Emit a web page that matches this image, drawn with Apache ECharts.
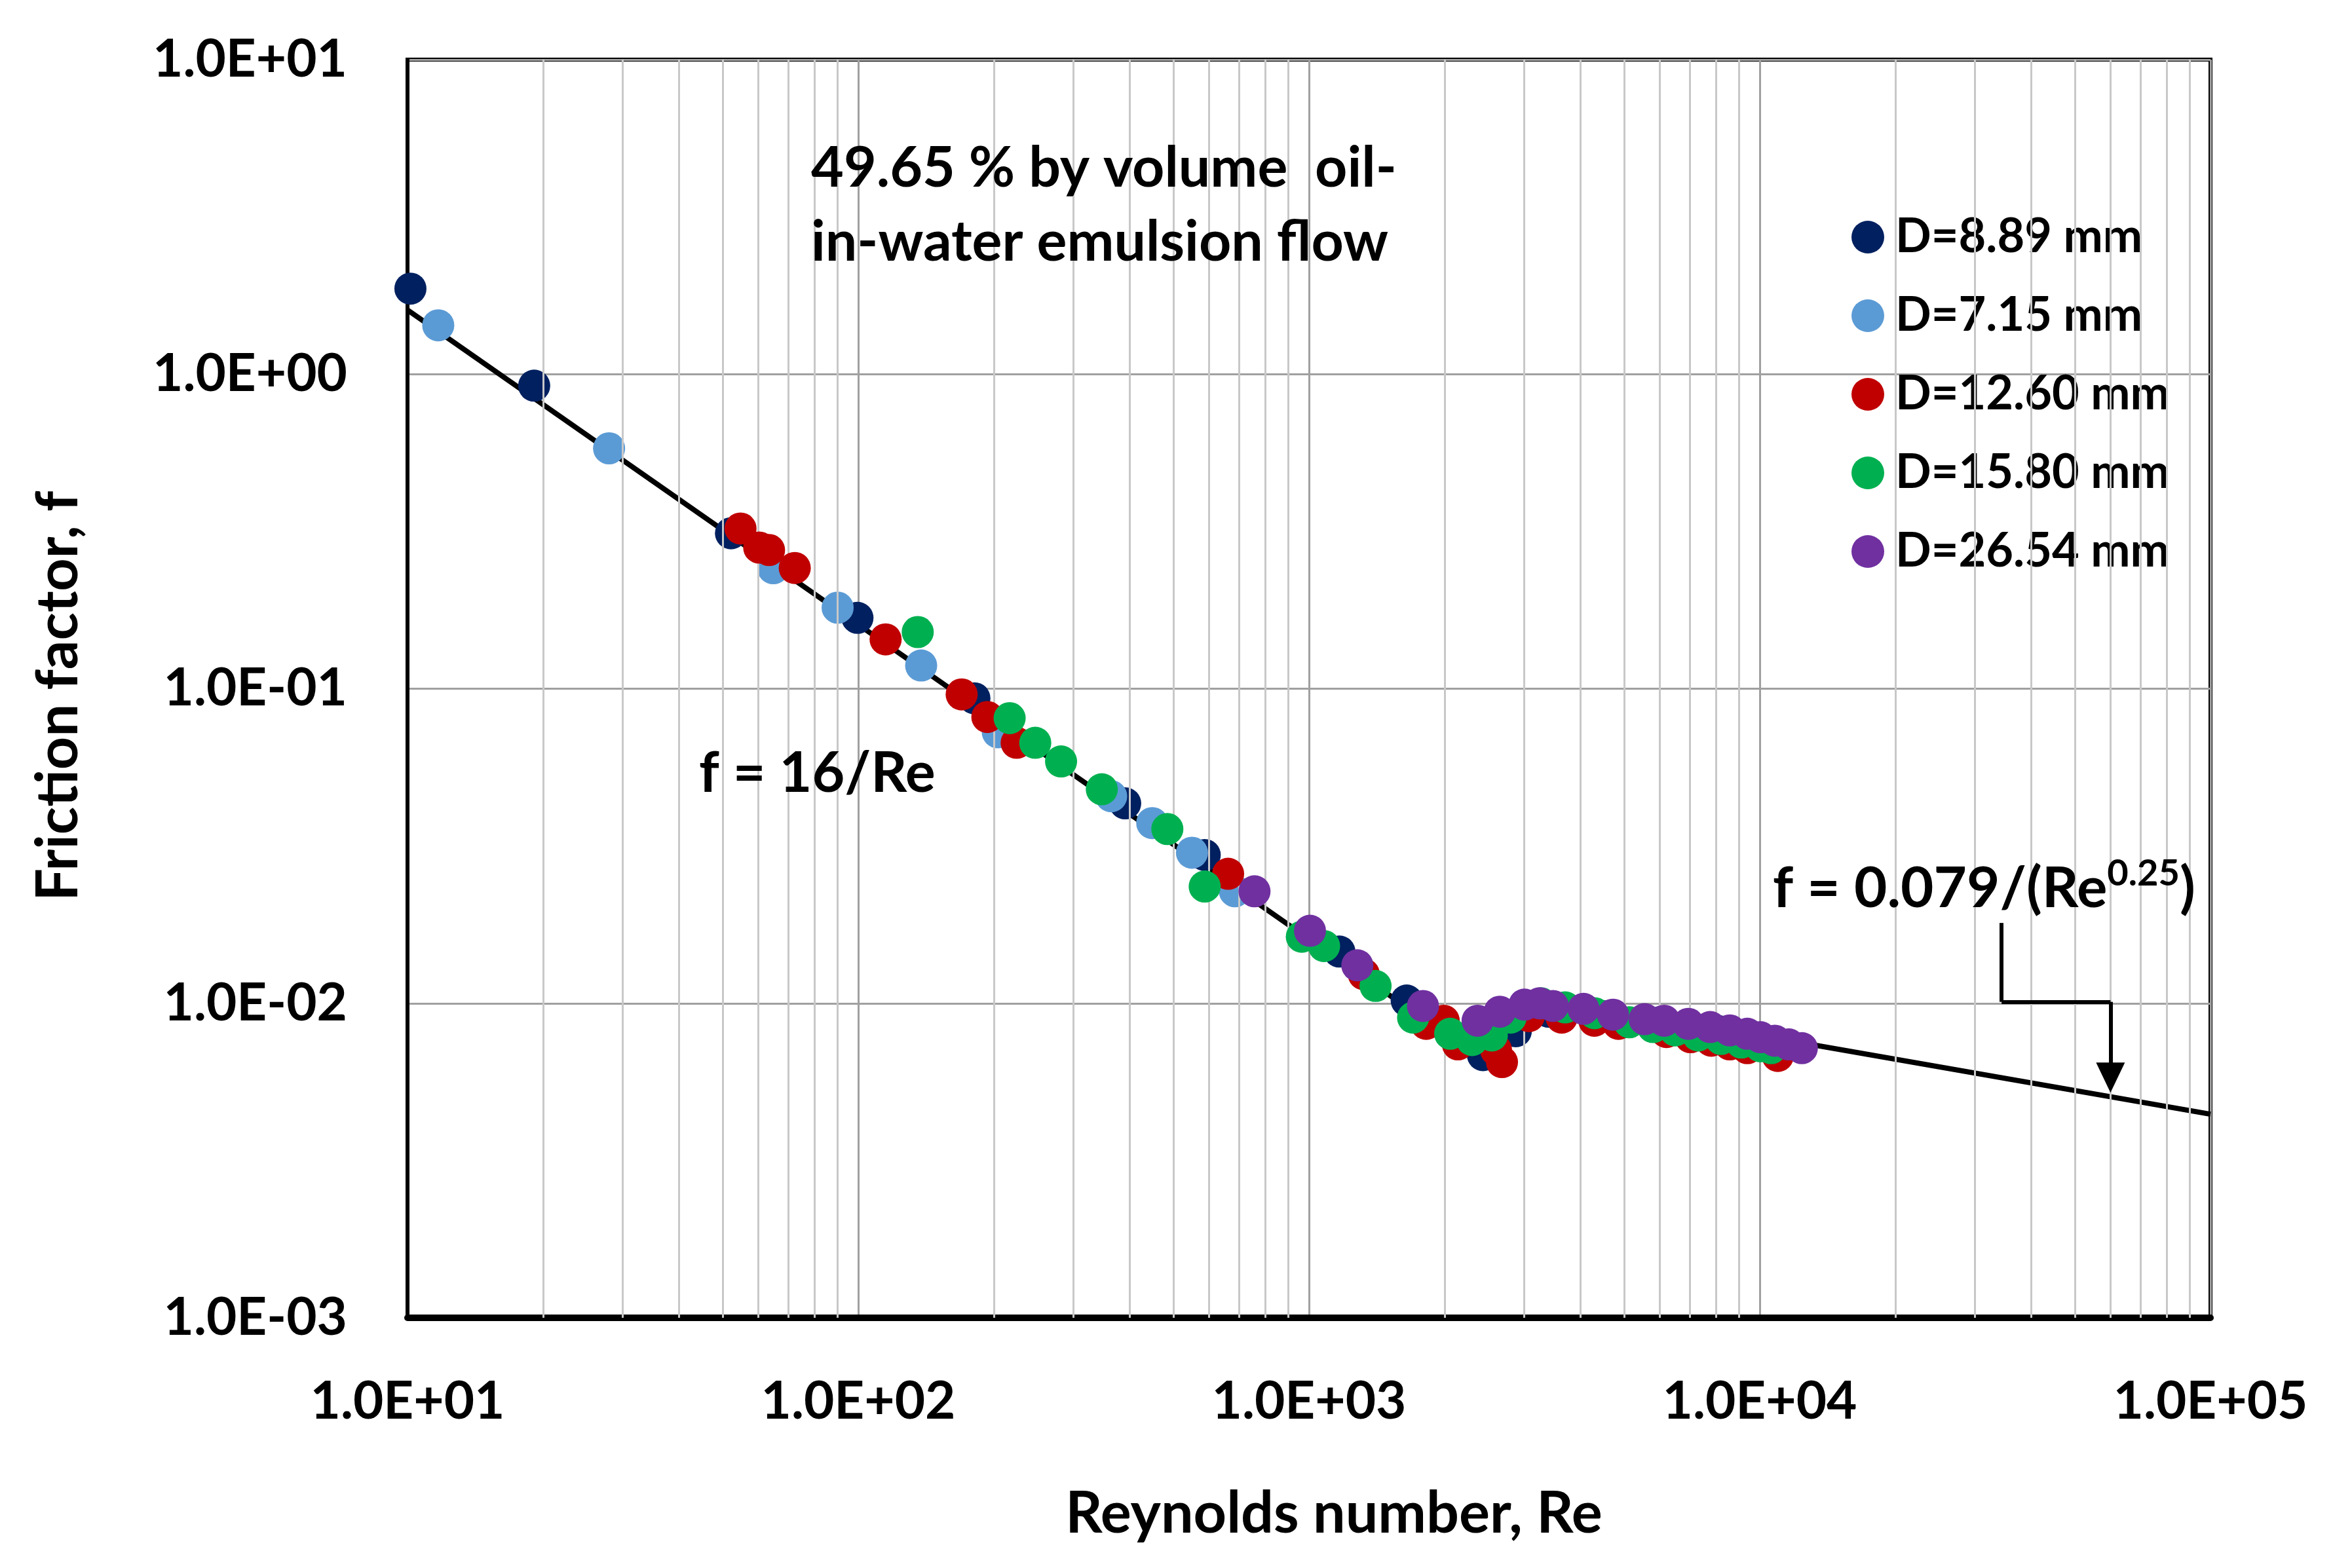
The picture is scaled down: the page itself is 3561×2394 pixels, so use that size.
<!DOCTYPE html>
<html>
<head>
<meta charset="utf-8">
<script src="https://cdn.jsdelivr.net/npm/echarts@6/dist/echarts.min.js"></script>
<style>
html,body{margin:0;padding:0;background:#fff;}
#chart{width:3561px;height:2394px;}
</style>
</head>
<body>
<div id="chart"></div>
<script>
// ---- data ----
const seriesNames = ['D=8.89 mm','D=7.15 mm','D=12.60 mm','D=15.80 mm','D=26.54 mm'];
const seriesColors = ['#002060','#5B9BD5','#C00000','#00B050','#7030A0'];

const d889 = [[10.15,1.87],[19.1,0.919],[52.2,0.312],[99.6,0.168],[181,0.0932],[391,0.0432],[587,0.0296],[1168,0.0146],[1647,0.0102],[2432,0.00684],[2876,0.00815],[3400,0.0094],[4500,0.0091],[6000,0.0087],[8000,0.0082]];
const d715 = [[11.7,1.43],[28.0,0.581],[64.8,0.2415],[90.0,0.181],[137.9,0.1185],[204,0.0727],[364,0.0455],[449,0.0374],[550,0.0301],[685,0.0227]];
const d1260 = [[54.8,0.323],[60.3,0.281],[63.4,0.276],[72.3,0.242],[115,0.1435],[169.6,0.0959],[193.4,0.0813],[224.6,0.0673],[661.6,0.0258],[1323,0.01237],[1820,0.0086],[1990,0.0088],[2140,0.0074],[2600,0.0071],[2680,0.0065],[3075,0.0091],[3635,0.0090],[4296,0.0088],[4859,0.0086],[6209,0.0081],[7022,0.0078],[7806,0.0076],[8580,0.0074],[9385,0.0072],[10965,0.0068]];
const d1580 = [[135.5,0.1514],[216.7,0.0806],[247,0.0673],[281.8,0.0587],[347,0.0479],[485,0.0358],[587,0.0235],[964,0.01627],[1080,0.0152],[1405,0.01135],[1702,0.0090],[2057,0.0080],[2301,0.00764],[2544,0.0079],[2800,0.0090],[3270,0.0100],[3700,0.0097],[4300,0.0093],[5137,0.0087],[5800,0.0084],[6494,0.0082],[7300,0.0079],[8200,0.0077],[9100,0.0075],[10035,0.0073],[10600,0.0072]];
const d2654 = [[757,0.0227],[1005,0.0170],[1280,0.0132],[1790,0.0098],[2366,0.0088],[2650,0.0094],[3007,0.0099],[3250,0.0100],[3476,0.0098],[4064,0.0096],[4725,0.0092],[5554,0.0089],[6138,0.0088],[6944,0.0086],[7763,0.0084],[8582,0.0082],[9385,0.0080],[10035,0.0078],[10800,0.0076],[11600,0.0074],[12400,0.0072]];

// model lines (end points)
const laminarLine = [[10,1.6],[2100,0.00762]];
const turbulentLine = [[3000,0.01067],[100000,0.00444]];

// annotation arrow path (data coordinates)
const arrowPath = [[34400,0.0180],[34400,0.0101],[60000,0.0101],[60000,0.0058]];

const xTickLabels = {1:'1.0E+01',2:'1.0E+02',3:'1.0E+03',4:'1.0E+04',5:'1.0E+05'};
const yTickLabels = {'-3':'1.0E-03','-2':'1.0E-02','-1':'1.0E-01','0':'1.0E+00','1':'1.0E+01'};

// ---- chart ----
const FONT = 'Lato';
const chart = echarts.init(document.getElementById('chart'), null, {renderer:'canvas'});

const minorX = [];
for (let d = 10; d < 100000; d *= 10) for (let k = 2; k <= 9; k++) minorX.push(d * k);

const dataSets = [d889, d715, d1260, d1580, d2654];

const series = [];
series.push({
  name:'minorGrid', type:'line', data:[], z:1, silent:true,
  markLine:{silent:true, symbol:['none','none'], animation:false, label:{show:false},
    lineStyle:{color:'#c8c8c8', width:3, type:'solid'},
    emphasis:{disabled:true},
    data: minorX.map(v => ({xAxis:v}))}
});
series.push({name:'laminar', type:'line', data:laminarLine, symbol:'none', z:2,
  lineStyle:{color:'#000', width:8}, silent:true, animation:false});
series.push({name:'turbulent', type:'line', data:turbulentLine, symbol:'none', z:2,
  lineStyle:{color:'#000', width:8}, silent:true, animation:false});
dataSets.forEach((ds, i) => {
  series.push({name:seriesNames[i], type:'scatter', data:ds, symbol:'circle', symbolSize:49,
    itemStyle:{color:seriesColors[i], opacity:1}, z:3 + i, animation:false});
});
const arrowSegs = [];
for (let i = 0; i < arrowPath.length - 1; i++) {
  const last = i === arrowPath.length - 2;
  arrowSegs.push([
    {coord:arrowPath[i], symbol:'none'},
    {coord:arrowPath[i+1], symbol: last ? 'triangle' : 'none', symbolSize: last ? [44,46] : 0, symbolRotate: last ? 180 : 0}
  ]);
}
series.push({
  name:'arrow', type:'line', data:[], z:10, silent:true,
  markLine:{silent:true, animation:false, label:{show:false}, symbol:['none','none'],
    lineStyle:{color:'#000', width:6, type:'solid'}, emphasis:{disabled:true},
    data: arrowSegs}
});

const option = {
  backgroundColor:'#fff',
  animation:false,
  grid:{left:622, right:187, top:91, bottom:382, show:true, borderColor:'#000', borderWidth:6, backgroundColor:'#fff'},
  legend:{
    data: seriesNames, orient:'vertical', left:2826, top:326, itemWidth:50, itemHeight:50, itemGap:48,
    icon:'circle', selectedMode:false,
    textStyle:{fontFamily:FONT, fontWeight:'bold', fontSize:72, color:'#000', padding:[0,0,0,12]},
    padding:0
  },
  xAxis:{
    type:'log', logBase:10, min:10, max:100000,
    axisLine:{show:true, onZero:false, lineStyle:{color:'#000', width:10}},
    axisTick:{show:false},
    splitLine:{show:true, lineStyle:{color:'#a0a0a0', width:3}},
    axisLabel:{fontFamily:FONT, fontWeight:'bold', fontSize:80, color:'#000', margin:88,
      formatter: v => xTickLabels[Math.round(Math.log10(v))] || ''},
    name:'Reynolds number, Re', nameLocation:'middle', nameGap:256,
    nameTextStyle:{fontFamily:FONT, fontWeight:'bold', fontSize:88, color:'#000', padding:[0,0,0,76]}
  },
  yAxis:{
    type:'log', logBase:10, min:0.001, max:10,
    axisLine:{show:true, onZero:false, lineStyle:{color:'#000', width:6}},
    axisTick:{show:false},
    splitLine:{show:true, lineStyle:{color:'#a0a0a0', width:3}},
    axisLabel:{fontFamily:FONT, fontWeight:'bold', fontSize:80, color:'#000', margin:92,
      formatter: v => yTickLabels[String(Math.round(Math.log10(v)))] || ''},
    name:'Friction factor, f', nameLocation:'middle', nameGap:488, nameRotate:90,
    nameTextStyle:{fontFamily:FONT, fontWeight:'bold', fontSize:88, color:'#000', padding:[0,22,0,0]}
  },
  graphic:[
    {type:'text', x:1238, y:257, z:100, style:{text:'49.65 % by volume  oil-', fontFamily:FONT, fontWeight:'bold', fontSize:86, fill:'#000', verticalAlign:'middle', align:'left'}},
    {type:'text', x:1238, y:370, z:100, style:{text:'in-water emulsion flow', fontFamily:FONT, fontWeight:'bold', fontSize:86, fill:'#000', verticalAlign:'middle', align:'left'}},
    {type:'text', x:1067, y:1181, z:100, style:{text:'f = 16/Re', fontFamily:FONT, fontWeight:'bold', fontSize:86, fill:'#000', verticalAlign:'middle', align:'left'}},
    {type:'text', x:2706, y:1350, z:100, style:{
      text:'{a|f = 0.079/(Re}{s|0.25}{a|)}', verticalAlign:'middle', align:'left',
      rich:{
        a:{fontFamily:FONT, fontWeight:'bold', fontSize:87, fill:'#000', lineHeight:100, verticalAlign:'bottom'},
        s:{fontFamily:FONT, fontWeight:'bold', fontSize:56, fill:'#000', lineHeight:56, verticalAlign:'top', padding:[6,0,0,0]}
      }}}
  ],
  series: series
};
chart.setOption(option);
</script>
</body>
</html>
